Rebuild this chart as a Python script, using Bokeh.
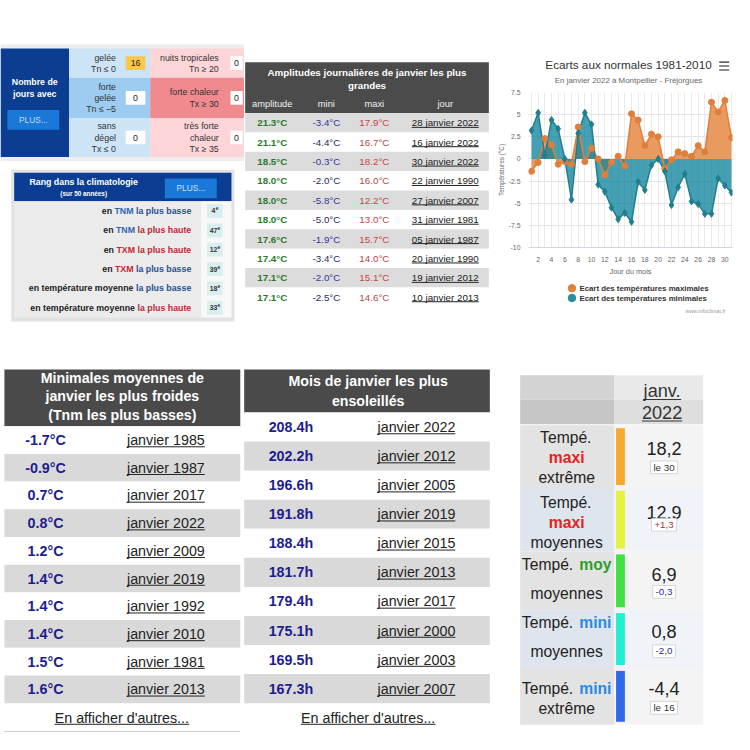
from bokeh.plotting import figure
from bokeh.models import Range1d, FixedTicker
from bokeh.layouts import row, column
from bokeh.embed import file_html
from bokeh.resources import INLINE
from bokeh.core.properties import value

# ---------------- DATA ----------------
jours_froid_labels = [["gelée", "Tn ≤ 0"], ["forte", "gelée", "Tn ≤ –5"], ["sans", "dégel", "Tx ≤ 0"]]
jours_froid_values = [16, 0, 0]
jours_chaud_labels = [["nuits tropicales", "Tn ≥ 20"], ["forte chaleur", "Tx ≥ 30"], ["très forte", "chaleur", "Tx ≥ 35"]]
jours_chaud_values = [0, 0, 0]

rang_parts = [
    [("en", "k"), ("TNM", "b"), ("la plus basse", "bb")],
    [("en", "k"), ("TNM", "b"), ("la plus haute", "rr")],
    [("en", "k"), ("TXM", "r"), ("la plus haute", "rr")],
    [("en", "k"), ("TXM", "r"), ("la plus basse", "bb")],
    [("en température moyenne", "k"), ("la plus basse", "bb")],
    [("en température moyenne", "k"), ("la plus haute", "rr")],
]
rang_values = [4, 47, 12, 39, 18, 33]

amp_amplitude = [21.3, 21.1, 18.5, 18.0, 18.0, 18.0, 17.6, 17.4, 17.1, 17.1]
amp_mini = [-3.4, -4.4, -0.3, -2.0, -5.8, -5.0, -1.9, -3.4, -2.0, -2.5]
amp_maxi = [17.9, 16.7, 18.2, 16.0, 12.2, 13.0, 15.7, 14.0, 15.1, 14.6]
amp_jour = ["28 janvier 2022", "16 janvier 2022", "30 janvier 2022", "22 janvier 1990",
            "27 janvier 2007", "31 janvier 1981", "05 janvier 1987", "20 janvier 1990",
            "19 janvier 2012", "10 janvier 2013"]

days = list(range(1, 32))
ecart_max = [-1.4, -0.4, 2.3, 1.6, -0.6, -0.3, -0.6, 3.6, -0.3, 1.2, 0.0, -1.8, -0.4, 0.3, -0.8,
             5.1, 4.4, 1.5, 2.8, 2.5, -1.1, -0.1, 0.8, 0.6, 0.3, 1.5, 0.8, 6.4, 5.3, 6.6, 2.4]
ecart_min = [3.2, 5.2, 0.4, 4.4, 3.4, 0.0, -4.6, 2.9, 5.2, 3.9, -2.9, -3.7, -5.5, -6.8, -6.1,
             -7.1, -2.6, -3.5, -0.7, 0.0, -1.4, -5.2, -3.2, -1.7, -4.8, -5.1, -6.2, -6.2, -2.2, -3.0, -3.8]
y_ticks = [-10, -7.5, -5, -2.5, 0, 2.5, 5, 7.5]
x_ticks = list(range(2, 31, 2))

tnm_values = [-1.7, -0.9, 0.7, 0.8, 1.2, 1.4, 1.4, 1.4, 1.5, 1.6]
tnm_years = [1985, 1987, 2017, 2022, 2009, 2019, 1992, 2010, 1981, 2013]

sol_values = [208.4, 202.2, 196.6, 191.8, 188.4, 181.7, 179.4, 175.1, 169.5, 167.3]
sol_years = [2022, 2012, 2005, 2019, 2015, 2013, 2017, 2000, 2003, 2007]

res_lines = [
    [[("Tempé.", "n")], [("maxi", "red")], [("extrême", "n")]],
    [[("Tempé.", "n")], [("maxi", "red")], [("moyennes", "n")]],
    [[("Tempé.", "n"), ("moy", "green")], [("moyennes", "n")]],
    [[("Tempé.", "n"), ("mini", "blue")], [("moyennes", "n")]],
    [[("Tempé.", "n"), ("mini", "blue")], [("extrême", "n")]],
]
res_values = ["18,2", "12,9", "6,9", "0,8", "-4,4"]
res_notes = ["le 30", "+1,3", "-0,3", "-2,0", "le 16"]
res_note_kind = ["n", "up", "down", "down", "n"]

# ---------------- STYLE / LAYOUT ----------------
S = 734 / 750
FONT = "Liberation Sans"
REG = {' ': 278, '!': 278, "'": 191, '(': 333, ')': 333, '+': 584, ',': 278, '-': 333, '–': 556, '.': 278,
       ':': 278, '°': 400, '≤': 549, '≥': 549,
       'A': 667, 'B': 667, 'C': 722, 'D': 722, 'E': 667, 'F': 611, 'G': 778, 'H': 722, 'I': 278, 'J': 500,
       'K': 667, 'L': 556, 'M': 833, 'N': 722, 'O': 778, 'P': 667, 'R': 722, 'S': 667, 'T': 611, 'U': 722,
       'V': 667, 'X': 667, 'a': 556, 'b': 556, 'c': 500, 'd': 556, 'e': 556, 'f': 278, 'g': 556, 'h': 556,
       'i': 222, 'j': 222, 'k': 500, 'l': 222, 'm': 833, 'n': 556, 'o': 556, 'p': 556, 'q': 556, 'r': 333,
       's': 500, 't': 278, 'u': 556, 'v': 500, 'w': 722, 'x': 500, 'y': 500, 'z': 500, 'é': 556, 'è': 556,
       'ê': 556, 'à': 556}
BOLD = {' ': 278, '(': 333, ')': 333, ',': 278, '-': 333, '.': 278, '°': 400,
        'A': 722, 'B': 722, 'C': 722, 'D': 722, 'E': 667, 'M': 833, 'N': 722, 'R': 722, 'T': 611, 'X': 667,
        'a': 556, 'b': 611, 'c': 556, 'd': 611, 'e': 556, 'f': 333, 'g': 611, 'h': 611, 'i': 278, 'j': 278,
        'k': 556, 'l': 278, 'm': 889, 'n': 611, 'o': 611, 'p': 611, 'q': 611, 'r': 389, 's': 556, 't': 333,
        'u': 611, 'v': 556, 'w': 778, 'x': 556, 'y': 556, 'z': 500, 'é': 556, 'è': 556, 'ê': 556, 'à': 556}


def tw(s, size, bold=False):
    tab = BOLD if bold else REG
    return sum(tab.get(ch, 556) for ch in s) * size / 1000.0


def fs(size):
    return value(f"{size * S:.2f}px")


def canvas(w, h, x0, y0):
    p = figure(width=w, height=h, x_range=Range1d(x0, x0 + w / S), y_range=Range1d(y0 + h / S, y0),
               toolbar_location=None, output_backend="svg", min_border=0, outline_line_color=None,
               x_axis_location=None, y_axis_location=None,
               background_fill_color="white", border_fill_color="white")
    p.grid.visible = False
    return p


def box(p, l, r, t, b, color, line=None, lw=1):
    p.quad(left=l, right=r, top=t, bottom=b, fill_color=color, line_color=line, line_width=lw)


def txt(p, x, y, text, size, color="#222222", bold=False, align="center", font=FONT):
    if not isinstance(x, list):
        x, y, text = [x], [y], [text]
    p.text(x=x, y=y, text=text, text_font=value(font), text_font_size=fs(size),
           text_font_style=("bold" if bold else "normal"), text_color=color,
           text_align=align, text_baseline="middle")


def underline(p, cx, y, texts, size, color="#222222"):
    if not isinstance(cx, list):
        cx, y, texts = [cx], [y], [texts]
    w = [tw(t, size) for t in texts]
    uy = [yy + 0.47 * size for yy in y]
    p.segment(x0=[c - ww / 2 for c, ww in zip(cx, w)], y0=uy, x1=[c + ww / 2 for c, ww in zip(cx, w)],
              y1=uy, line_color=color, line_width=1)


def mixed(p, segs, x, y, size, align):
    sp = tw(" ", size)
    widths = [tw(t, size, b) for t, c, b in segs]
    total = sum(widths) + sp * (len(segs) - 1)
    start = x - total if align == "right" else x - total / 2
    for (t, c, b), w in zip(segs, widths):
        txt(p, start, y, t, size, c, b, align="left")
        start += w + sp


W1, W2, W3 = 244, 250, 240
W4, W5, W6 = 242, 257, 235
H_TOP, H_BOT = 342, 392
Y_BOT = H_TOP / S

# ================= TOP LEFT =================
p1 = canvas(W1, H_TOP, 0, 0)
JE = [49, 79, 120, 160]
FROID_BG = ["#cde4f7", "#9ecbf0", "#cde4f7"]
CHAUD_BG = ["#fcd5d8", "#f08a8e", "#fcd5d8"]
box(p1, 0, W1 / S, 45, 164, "#ededed")
box(p1, 0, 70, JE[0], JE[-1], "#0b3d91")
txt(p1, [35, 35], [83, 95.5], ["Nombre de", "jours avec"], 9, "white", True)
box(p1, 7, 60, 112, 132, "#1a78d8")
txt(p1, 33.5, 122, "PLUS...", 8.5, "#c5ddf8")
for i in range(3):
    t, b = JE[i], JE[i + 1]
    c = (t + b) / 2
    box(p1, 70, 153, t, b, FROID_BG[i])
    box(p1, 153, W1 / S, t, b, CHAUD_BG[i])
    for labels, xr in ((jours_froid_labels[i], 118), (jours_chaud_labels[i], 223)):
        n = len(labels)
        ys = [c + (k - (n - 1) / 2) * 11.5 for k in range(n)]
        txt(p1, [xr] * n, ys, labels, 9, "#333333", align="right")
    v = jours_froid_values[i]
    box(p1, 128, 148, c - 7, c + 7, "#f8c84a" if v > 0 else "white")
    txt(p1, 138, c, str(v), 9, "#222222")
    box(p1, 235, 247.5, c - 7, c + 7, "white")
    txt(p1, 241.2, c, str(jours_chaud_values[i]), 9, "#222222")

# Rang panel
box(p1, 11, 239, 173, 328, "#e2e2e2")
box(p1, 14, 236, 176, 205, "#0b3e93")
txt(p1, 85, 185, "Rang dans la climatologie", 9, "white", True)
txt(p1, 85, 197.5, "(sur 50 années)", 6.5, "white", True)
box(p1, 168, 221, 182, 202, "#1a78d8")
txt(p1, 194.5, 192, "PLUS...", 8.5, "#c9e0fa")
box(p1, 14, 205, 205, 324, "#ebebeb")
box(p1, 205, 236, 205, 324, "#f8f8f8")
RC = {"k": ("#222222", True), "b": ("#2f65b0", True), "bb": ("#2a4e8e", True),
      "r": ("#c0282f", True), "rr": ("#b82a33", True)}
for i, (parts, v) in enumerate(zip(rang_parts, rang_values)):
    c = 215 + 19.8 * i
    mixed(p1, [(t, RC[k][0], RC[k][1]) for t, k in parts], 195, c, 9, "right")
    box(p1, 211, 227, c - 7, c + 7, "#d9eeee")
    wn = tw(str(v), 7, True)
    we = tw("e", 5, True)
    st = 219 - (wn + we) / 2
    txt(p1, st, c, str(v), 7, "#333333", True, align="left")
    txt(p1, st + wn + 0.3, c - 2.5, "e", 5, "#333333", True, align="left")

# ================= TOP MIDDLE =================
X2 = W1 / S
p2 = canvas(W2, H_TOP, X2, 0)
box(p2, 250, 499, 63, 115, "#4b4b4b")
txt(p2, [374.5, 374.5], [73.3, 86.7], ["Amplitudes journalières de janvier les plus", "grandes"], 10, "white", True)
COLX = [277.7, 333, 382, 454.5]
txt(p2, COLX, [106] * 4, ["amplitude", "mini", "maxi", "jour"], 9.5, "#f2f2f2")
for i in range(len(amp_amplitude)):
    top = 115 + 19.8 * i
    c = top + 9.9
    grey = (i % 2 == 0)
    box(p2, 250, 499, top, top + 19.8, "#dcdcdc" if grey else "white")
    txt(p2, COLX[0], c, f"{amp_amplitude[i]:.1f}°C", 10, "#2a7a2a", True)
    txt(p2, COLX[1], c, f"{amp_mini[i]:.1f}°C", 10, "#3535a0" if grey else "#2a2a58")
    txt(p2, COLX[2], c, f"{amp_maxi[i]:.1f}°C", 10, "#cc4444" if grey else "#b44a4a")
    txt(p2, COLX[3], c, amp_jour[i], 10, "#222222")
    underline(p2, COLX[3], c, amp_jour[i], 10)

# ================= TOP RIGHT (chart) =================
X3 = (W1 + W2) / S
p3a = canvas(W3, 86, X3, 0)
txt(p3a, 625, 65, "Ecarts aux normales 1981-2010", 12, "#333333")
txt(p3a, 625, 81.7, "En janvier 2022 à Montpellier - Fréjorgues", 8.1, "#666666")
p3a.segment(x0=[734, 734, 734], y0=[63, 67, 71], x1=[746, 746, 746], y1=[63, 67, 71],
            line_color="#666666", line_width=1.6)

p3 = figure(width=W3, height=192, x_range=Range1d(0.55, 31.15), y_range=Range1d(-10, 7.5),
            toolbar_location=None, output_backend="svg", outline_line_color=None,
            min_border_left=21, min_border_right=2, min_border_top=6, min_border_bottom=28,
            background_fill_color="white", border_fill_color="white")
p3.varea(x=days, y1=0, y2=ecart_max, fill_color="#e99a5e")
p3.varea(x=days, y1=0, y2=ecart_min, fill_color="#08809b", fill_alpha=0.75)
p3.line(days, ecart_max, line_color="#e07f3c", line_width=1.5)
p3.line(days, ecart_min, line_color="#207e8e", line_width=1.5)
p3.scatter(days, ecart_max, size=6, color="#e07f3c")
p3.scatter(days, ecart_min, marker="diamond", size=7, color="#1f7f8f")
p3.xgrid.ticker = FixedTicker(ticks=days)
p3.xgrid.grid_line_color = "#ebebeb"
p3.ygrid.ticker = FixedTicker(ticks=y_ticks)
p3.ygrid.grid_line_color = "#e4e4e4"
xa, ya = p3.xaxis[0], p3.yaxis[0]
xa.ticker = FixedTicker(ticks=x_ticks)
ya.ticker = FixedTicker(ticks=y_ticks)
ya.major_label_overrides = {v: f"{v:g}" for v in y_ticks}
for ax in (xa, ya):
    ax.major_label_text_font = FONT
    ax.major_label_text_font_size = f"{7 * S:.2f}px"
    ax.major_label_text_color = "#666666"
    ax.axis_label_text_font = FONT
    ax.axis_label_text_font_style = "normal"
    ax.axis_label_text_color = "#666666"
    ax.major_tick_line_color = None
    ax.minor_tick_line_color = None
xa.axis_line_color = "#ccd6eb"
ya.axis_line_color = None
xa.axis_label = "Jour du mois"
xa.axis_label_text_font_size = f"{7.5 * S:.2f}px"
xa.major_label_standoff = 3
xa.axis_label_standoff = 2
ya.axis_label = "Températures (°C)"
ya.axis_label_text_font_size = f"{6.5 * S:.2f}px"
ya.major_label_standoff = 2
ya.axis_label_standoff = 1

p3c = canvas(W3, H_TOP - 86 - 192, X3, (86 + 192) / S)
p3c.scatter(x=[557, 557], y=[294, 304], size=7.5, color=["#e0823d", "#2b8c9e"])
txt(p3c, [566, 566], [294, 304], ["Ecart des températures maximales", "Ecart des températures minimales"],
    8, "#333333", True, align="left")
txt(p3c, 742, 317, "www.infoclimat.fr", 5.5, "#999999", align="right")

# ================= BOTTOM LEFT =================
p4 = canvas(W4, H_BOT, 0, Y_BOT)
box(p4, 4, 245, 377, 435, "#4a4a4a")
txt(p4, [124.5] * 3, [386, 404.3, 423.3],
    ["Minimales moyennes de", "janvier les plus froides", "(Tnm les plus basses)"], 14.5, "white", True)
for i, (v, yr) in enumerate(zip(tnm_values, tnm_years)):
    top = 435 + 28.3 * i
    c = top + 14.15
    box(p4, 4, 245, top, top + 28.3, "#d9d9d9" if i % 2 else "white")
    txt(p4, 46, c, f"{v:.1f}°C", 14.6, "#1d1d8f", True)
    d = f"janvier {yr}"
    txt(p4, 169, c, d, 14.6, "#222222")
    underline(p4, 169, c, d, 14.6)
txt(p4, 124, 732.7, "En afficher d'autres...", 14.6, "#222222")
underline(p4, 124, 732.7, "En afficher d'autres...", 14.6)
p4.segment(x0=[4], y0=[747], x1=[245], y1=[747], line_color="#cccccc", line_width=1)

# ================= BOTTOM MIDDLE =================
X5 = W4 / S
p5 = canvas(W5, H_BOT, X5, Y_BOT)
box(p5, 249, 500, 377, 421, "#4a4a4a")
txt(p5, [375.7, 375.7], [389.3, 409], ["Mois de janvier les plus", "ensoleillés"], 14.5, "white", True)
for i, (v, yr) in enumerate(zip(sol_values, sol_years)):
    top = 421 + 29.7 * i
    c = top + 14.85
    box(p5, 249, 500, top, top + 29.7, "#d9d9d9" if i % 2 else "white")
    txt(p5, 296.7, c, f"{v:.1f}h", 14.6, "#1d1d8f", True)
    d = f"janvier {yr}"
    txt(p5, 425, c, d, 14.6, "#222222")
    underline(p5, 425, c, d, 14.6)
txt(p5, 375.7, 732.7, "En afficher d'autres...", 14.6, "#222222")
underline(p5, 375.7, 732.7, "En afficher d'autres...", 14.6)

# ================= BOTTOM RIGHT =================
X6 = (W4 + W5) / S
p6 = canvas(W6, H_BOT, X6, Y_BOT)
box(p6, 531, 627, 383, 408, "#d3d3d3")
box(p6, 531, 627, 408, 433, "#c6c6c6")
box(p6, 627, 718, 383, 408, "#e9e9e9")
box(p6, 627, 718, 408, 433, "#dedede")
txt(p6, [676, 676], [399, 421], ["janv.", "2022"], 18.5, "#333333")
underline(p6, [676, 676], [399, 421], ["janv.", "2022"], 18.5, "#333333")
RE = [434, 498, 563, 623, 682, 740]
LAB_BG = ["#e3e3e3", "#dfe5ec", "#e3e3e3", "#dfe5ec", "#e3e3e3"]
VAL_BG = ["#f4f4f4", "#f0f4f9", "#f4f4f4", "#f0f4f9", "#f4f4f4"]
BAR_COL = ["#f6a92e", "#e6f23c", "#3fe03f", "#22efcf", "#2f6be8"]
LINE_Y = [[447, 466.7, 487.5], [512.7, 533, 554], [576.7, 606], [635.7, 665], [703.3, 723.3]]
VAL_Y = [457.3, 522.7, 586.7, 645, 703.3]
NOTE_Y = [477, 535.7, 604.3, 665, 722.7]
WC = {"n": ("#222222", False), "red": ("#e4221e", True), "green": ("#2e9e2e", True), "blue": ("#2a8ae0", True)}
NC = {"n": "#333333", "up": "#b03030", "down": "#2a2a9a"}
for i in range(5):
    t, b = RE[i], RE[i + 1]
    box(p6, 531, 627, t, b, LAB_BG[i])
    box(p6, 627, 718, t, b, VAL_BG[i])
    box(p6, 629, 638, t + 3, b - 3, BAR_COL[i])
    for segs, yy in zip(res_lines[i], LINE_Y[i]):
        mixed(p6, [(s, WC[k][0], WC[k][1]) for s, k in segs], 578.5, yy, 16, "center")
    txt(p6, 678, VAL_Y[i], res_values[i], 18.5, "#222222")
    nw = tw(res_notes[i], 10)
    box(p6, 678 - nw / 2 - 3, 678 + nw / 2 + 3, NOTE_Y[i] - 6.5, NOTE_Y[i] + 6.5, "white", "#cccccc", 0.8)
    txt(p6, 678, NOTE_Y[i], res_notes[i], 10, NC[res_note_kind[i]])

layout = column(row(p1, p2, column(p3a, p3, p3c, spacing=0), spacing=0),
                row(p4, p5, p6, spacing=0), spacing=0)
open("out.html", "w").write(file_html(layout, INLINE))
